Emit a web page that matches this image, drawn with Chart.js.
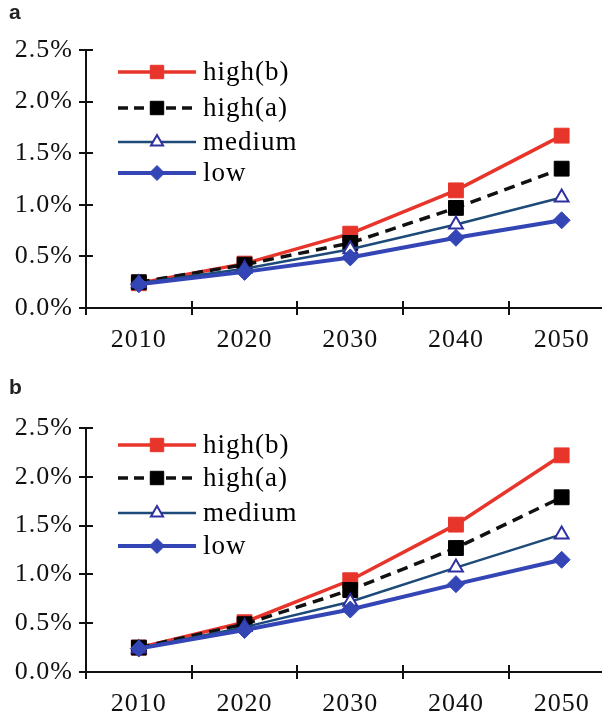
<!DOCTYPE html>
<html><head><meta charset="utf-8">
<script src="https://cdn.jsdelivr.net/npm/chart.js@4.4.1/dist/chart.umd.min.js"></script>
<style>
html,body{margin:0;padding:0;background:#fff;overflow:hidden;width:602px;height:711px;}
#wrap{position:relative;width:602px;height:711px;overflow:hidden;background:#fff;}
canvas{position:absolute;left:0;}
.lbl{position:absolute;font:bold 21px "Liberation Sans",Arial,sans-serif;color:#222;z-index:2;}
</style></head><body>
<div id="wrap">
<canvas id="ca" width="626" height="360" style="top:0px"></canvas>
<canvas id="cb" width="626" height="351" style="top:360px"></canvas>
<div class="lbl" style="left:9px;top:0px">a</div>
<div class="lbl" style="left:9px;top:375px">b</div>
</div>
<script>
// ---- data ----
const years = ['2010', '2020', '2030', '2040', '2050'];
const seriesNames = ['high(b)', 'high(a)', 'medium', 'low'];
const yTicks = [0, 0.5, 1.0, 1.5, 2.0, 2.5];

const aHighB  = [0.24, 0.43, 0.72, 1.14, 1.67];
const aHighA  = [0.25, 0.42, 0.63, 0.97, 1.35];
const aMedium = [0.24, 0.38, 0.57, 0.81, 1.07];
const aLow    = [0.23, 0.35, 0.49, 0.68, 0.85];

const bHighB  = [0.25, 0.51, 0.94, 1.51, 2.22];
const bHighA  = [0.25, 0.49, 0.84, 1.27, 1.79];
const bMedium = [0.24, 0.46, 0.72, 1.07, 1.41];
const bLow    = [0.24, 0.43, 0.64, 0.90, 1.15];

// ---- styles ----
const RED = '#e8352b', BLACK = '#111111', TEAL = '#1d4a78', TRI = '#3030a0', BLUE = '#3445b5';

function makeDatasets(hb, ha, md, lo) {
  return [
    { label: seriesNames[0], data: hb, order: 3, borderColor: RED, borderWidth: 3.5, pointStyle: 'rect', pointRadius: 10.5,
      pointBackgroundColor: RED, pointBorderColor: RED, pointBorderWidth: 1, tension: 0 },
    { label: seriesNames[1], data: ha, order: 2, borderColor: BLACK, borderWidth: 3.5, borderDash: [11, 7], pointStyle: 'rect', pointRadius: 10.5,
      pointBackgroundColor: '#000', pointBorderColor: '#000', pointBorderWidth: 1, tension: 0 },
    { label: seriesNames[2], data: md, order: 1, borderColor: TEAL, borderWidth: 2.5, pointStyle: 'triangle', pointRadius: 8,
      pointBackgroundColor: '#fff', pointBorderColor: TRI, pointBorderWidth: 2, tension: 0 },
    { label: seriesNames[3], data: lo, order: 0, borderColor: BLUE, borderWidth: 4, pointStyle: 'rectRot', pointRadius: 8.5,
      pointBackgroundColor: BLUE, pointBorderColor: BLUE, pointBorderWidth: 1, tension: 0 }
  ];
}

const spacingPlugin = { id: 'spacing', beforeDraw(chart) { chart.ctx.letterSpacing = '1px'; } };

const innerTicks = {
  id: 'innerTicks',
  beforeDatasetsDraw(chart) {
    const { ctx, chartArea: a, scales: { x, y } } = chart;
    ctx.save();
    ctx.strokeStyle = '#111'; ctx.lineWidth = 2; ctx.beginPath();
    y.ticks.forEach(t => {
      const py = Math.round(y.getPixelForValue(t.value));
      ctx.moveTo(a.left, py); ctx.lineTo(a.left + 7, py);
    });
    const step = x.getPixelForValue(1) - x.getPixelForValue(0);
    for (let i = 1; i <= years.length; i++) {
      const px = Math.round(x.getPixelForValue(i) - step / 2);
      ctx.moveTo(px, a.bottom); ctx.lineTo(px, a.bottom - 7);
    }
    ctx.stroke(); ctx.restore();
  }
};

const inLegend = {
  id: 'inLegend',
  afterDatasetsDraw(chart, args, opts) {
    const { ctx, chartArea: a } = chart;
    chart.data.datasets.forEach((ds, i) => {
      const yy = a.top + opts.offsets[i];
      const x0 = 118, x1 = 196, cx = (x0 + x1) / 2;
      ctx.save();
      ctx.strokeStyle = ds.borderColor; ctx.lineWidth = ds.borderWidth;
      ctx.setLineDash(ds.borderDash ? [10, 6] : []);
      ctx.beginPath(); ctx.moveTo(x0, yy); ctx.lineTo(x1, yy); ctx.stroke();
      ctx.setLineDash([]);
      ctx.fillStyle = ds.pointBackgroundColor; ctx.strokeStyle = ds.pointBorderColor; ctx.lineWidth = ds.pointBorderWidth;
      Chart.helpers.drawPoint(ctx, { pointStyle: ds.pointStyle, radius: ds.pointRadius - 1, borderWidth: ds.pointBorderWidth, rotation: 0 }, cx, yy);
      ctx.letterSpacing = '1px';
      ctx.font = '27px "Liberation Serif", "Times New Roman", serif';
      ctx.fillStyle = '#000'; ctx.textBaseline = 'middle'; ctx.textAlign = 'left';
      ctx.fillText(ds.label, 203, yy + 1);
      ctx.restore();
    });
  }
};

function makeChart(id, datasets, padTop, xH, offsets) {
  const tickFont = { family: '"Liberation Serif", "Times New Roman", serif', size: 26 };
  const gridOpt = { drawOnChartArea: false, drawTicks: true, tickLength: 7, color: '#111', lineWidth: 2 };
  return new Chart(document.getElementById(id), {
    type: 'line',
    data: { labels: years, datasets },
    options: {
      responsive: false, animation: false, devicePixelRatio: 1,
      layout: { padding: { top: padTop, left: 0, right: 2, bottom: 0 } },
      plugins: { legend: { display: false }, tooltip: { enabled: false }, inLegend: { offsets } },
      scales: {
        x: {
          offset: true,
          grid: Object.assign({ offset: true }, gridOpt),
          border: { color: '#111', width: 2 },
          ticks: { font: tickFont, color: '#111', padding: 10, autoSkip: false, maxRotation: 0 },
          afterFit(s) { s.height = xH; }
        },
        y: {
          min: 0, max: 2.5,
          afterBuildTicks(s) { s.ticks = yTicks.map(v => ({ value: v })); },
          grid: gridOpt,
          border: { color: '#111', width: 2 },
          ticks: { font: tickFont, color: '#111', padding: 6, callback: v => Number(v).toFixed(1) + '%' },
          afterFit(s) { s.width = 86; }
        }
      }
    },
    plugins: [spacingPlugin, innerTicks, inLegend]
  });
}

makeChart('ca', makeDatasets(aHighB, aHighA, aMedium, aLow), 50, 52, [22, 58, 92, 123]);
makeChart('cb', makeDatasets(bHighB, bHighA, bMedium, bLow), 68, 39, [17, 50, 85, 118]);
</script>
</body></html>
